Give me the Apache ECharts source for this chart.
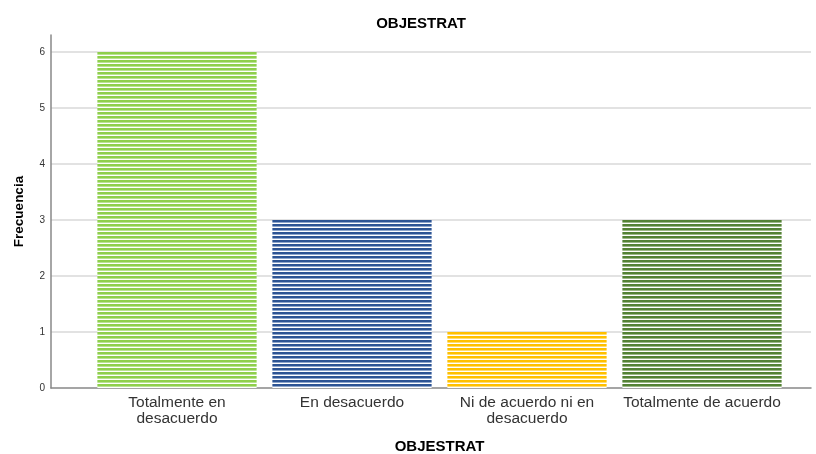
<!DOCTYPE html>
<html>
<head>
<meta charset="utf-8">
<script src="https://cdn.jsdelivr.net/npm/echarts@6/dist/echarts.min.js"></script>
<style>
  html, body { margin: 0; padding: 0; background: #fff; }
  #chart { width: 816px; height: 454px; }
</style>
</head>
<body>
<div id="chart"></div>
<script>
// Frequency table for OBJESTRAT
const categories = ['Totalmente en\ndesacuerdo', 'En desacuerdo', 'Ni de acuerdo ni en\ndesacuerdo', 'Totalmente de acuerdo'];
const frequencies = [6, 3, 1, 3];
const yTicks = [0, 1, 2, 3, 4, 5, 6];

// Bar fill colours: [main stripe, lighter stripe]
const palette = [
  ['#8fcf4c', '#b9e391'],
  ['#2d5494', '#8ea6cc'],
  ['#ffc000', '#ffdc70'],
  ['#548235', '#9cb887']
];

// Horizontal-stripe fill drawn on a small tile canvas
function stripes(main, light) {
  const c = document.createElement('canvas');
  c.width = 4; c.height = 4;
  const g = c.getContext('2d');
  g.fillStyle = '#ffffff'; g.fillRect(0, 0, 4, 4);
  g.fillStyle = main; g.fillRect(0, 0, 4, 2);
  g.fillStyle = light; g.fillRect(0, 2, 4, 1);
  return { image: c, repeat: 'repeat' };
}

const font = '"Liberation Sans", Arial, sans-serif';
const yMax = 6.3;

const chart = echarts.init(document.getElementById('chart'), null, { renderer: 'canvas' });
chart.setOption({
  backgroundColor: '#ffffff',
  animation: false,
  title: {
    text: 'OBJESTRAT',
    left: 416, top: 11, textAlign: 'center',
    textStyle: { fontFamily: font, fontSize: 15, fontWeight: 'bold', color: '#000' }
  },
  grid: [
    { left: 51, right: 5, top: 35, bottom: 66, outerBoundsMode: 'none', containLabel: false },
    { left: 89.5, width: 700, top: 35, bottom: 66, outerBoundsMode: 'none', containLabel: false }
  ],
  xAxis: [
    {
      gridIndex: 0, type: 'category', data: [''],
      axisLine: { show: true, lineStyle: { color: '#888', width: 1.5 } },
      axisTick: { show: false }, axisLabel: { show: false }
    },
    {
      gridIndex: 1, type: 'category', data: categories,
      axisLine: { show: false }, axisTick: { show: false },
      axisLabel: { fontFamily: font, fontSize: 15.5, color: '#333', lineHeight: 16, margin: 7, interval: 0 },
      name: 'OBJESTRAT', nameLocation: 'middle', nameGap: 51,
      nameTextStyle: { fontFamily: font, fontSize: 15, fontWeight: 'bold', color: '#000' }
    }
  ],
  yAxis: [
    {
      gridIndex: 0, type: 'value', min: yTicks[0], max: yMax, interval: 1,
      axisLine: { show: true, lineStyle: { color: '#888', width: 1.5 } },
      axisTick: { show: false },
      axisLabel: {
        showMaxLabel: false, margin: 6,
        fontFamily: font, fontSize: 10, color: '#333',
        formatter: v => (yTicks.includes(v) ? String(v) : '')
      },
      splitLine: { show: true, showMinLine: false, showMaxLine: false, lineStyle: { color: '#d9d9d9', width: 1.5 } },
      name: 'Frecuencia', nameLocation: 'middle', nameGap: 25, nameRotate: 90,
      nameTextStyle: { fontFamily: font, fontSize: 13.5, fontWeight: 'bold', color: '#000' }
    },
    {
      gridIndex: 1, type: 'value', min: 0, max: yMax, show: false
    }
  ],
  series: [{
    type: 'bar',
    xAxisIndex: 1, yAxisIndex: 1,
    barWidth: '91%',
    data: frequencies.map((v, i) => ({
      value: v,
      itemStyle: { color: stripes(palette[i][0], palette[i][1]) }
    }))
  }]
});
</script>
</body>
</html>
